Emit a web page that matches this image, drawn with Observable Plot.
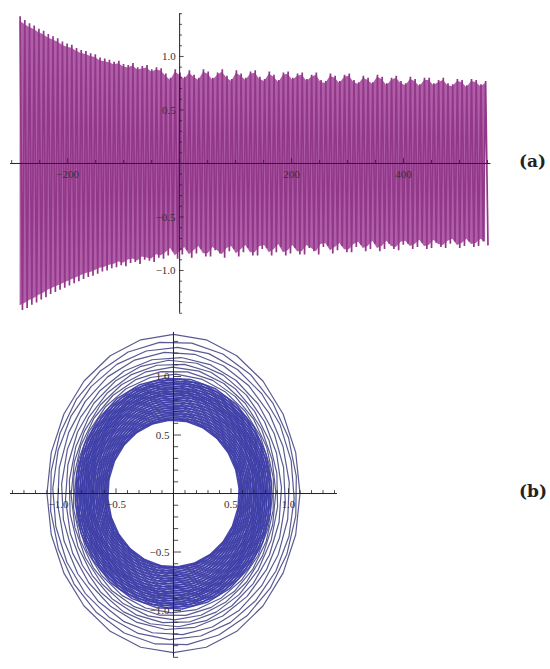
<!DOCTYPE html>
<html>
<head>
<meta charset="utf-8">
<style>
  body { margin: 0; background: #fff; }
  #wrap { position: relative; width: 550px; height: 669px; overflow: hidden; }
  #wrap svg { position: absolute; left: 0; }
  .lab { position: absolute; font-family: "DejaVu Serif", serif; font-weight: bold; font-size: 17px; color: #222; }
</style>
<script src="https://cdn.jsdelivr.net/npm/d3@7"></script>
<script src="https://cdn.jsdelivr.net/npm/@observablehq/plot@0.6"></script>
</head>
<body>
<div id="wrap"></div>
<script>
// ---------- Panel (a): time series, one max and one min per visible cycle ----------
const tStart = -285;
const tStep = 8.4;
const upperPeaks = [
  1.37, 1.34, 1.31, 1.29, 1.26, 1.24, 1.21, 1.19, 1.17, 1.14,
  1.12, 1.11, 1.08, 1.06, 1.05, 1.03, 1.02, 0.99, 0.98, 0.97,
  0.95, 0.96, 0.93, 0.92, 0.94, 0.90, 0.91, 0.92, 0.88, 0.90,
  0.89, 0.84, 0.80, 0.88, 0.85, 0.81, 0.87, 0.83, 0.80, 0.88,
  0.86, 0.80, 0.85, 0.88, 0.82, 0.79, 0.87, 0.84, 0.80, 0.86,
  0.87, 0.81, 0.79, 0.86, 0.83, 0.78, 0.85, 0.86, 0.80, 0.84,
  0.85, 0.79, 0.83, 0.85, 0.78, 0.77, 0.84, 0.82, 0.77, 0.83,
  0.84, 0.78, 0.76, 0.82, 0.80, 0.76, 0.83, 0.81, 0.75, 0.80,
  0.82, 0.77, 0.75, 0.81, 0.79, 0.74, 0.80, 0.80, 0.75, 0.78,
  0.80, 0.75, 0.74, 0.79, 0.78, 0.73, 0.79, 0.78, 0.74, 0.77
];
const lowerPeaks = [
  -1.37, -1.35, -1.32, -1.30, -1.27, -1.25, -1.22, -1.20, -1.18, -1.16,
  -1.14, -1.12, -1.10, -1.08, -1.06, -1.05, -1.03, -1.01, -1.00, -0.98,
  -0.97, -0.95, -0.96, -0.93, -0.92, -0.94, -0.90, -0.91, -0.92, -0.88,
  -0.89, -0.86, -0.82, -0.89, -0.85, -0.81, -0.88, -0.84, -0.80, -0.87,
  -0.87, -0.81, -0.84, -0.88, -0.82, -0.80, -0.87, -0.83, -0.79, -0.86,
  -0.86, -0.80, -0.79, -0.86, -0.83, -0.78, -0.86, -0.84, -0.79, -0.85,
  -0.85, -0.79, -0.82, -0.85, -0.78, -0.77, -0.84, -0.81, -0.77, -0.83,
  -0.83, -0.78, -0.76, -0.82, -0.80, -0.75, -0.82, -0.80, -0.75, -0.80,
  -0.81, -0.76, -0.75, -0.80, -0.78, -0.74, -0.80, -0.79, -0.74, -0.78,
  -0.79, -0.75, -0.73, -0.79, -0.77, -0.73, -0.78, -0.77, -0.73, -0.76
];
const xTickLabelsA = [-200, 200, 400];
const yTickLabelsA = [-1.0, -0.5, 0.5, 1.0];

// ---------- Panel (b): phase portrait, loops read as (x half-width, y half-height) ----------
const outerLoopRx = [1.10, 1.075, 1.05, 1.01, 0.975, 0.94, 0.91, 0.89, 0.875, 0.86];
const outerLoopRy = [1.36, 1.30, 1.25, 1.21, 1.165, 1.14, 1.11, 1.08, 1.05, 1.02];
const denseLoopRx = [
  0.855, 0.845, 0.84, 0.83, 0.82, 0.815, 0.805, 0.80, 0.79, 0.785,
  0.78, 0.77, 0.765, 0.76, 0.75, 0.745, 0.74, 0.73, 0.725, 0.72,
  0.71, 0.705, 0.70, 0.69, 0.68, 0.675, 0.665, 0.66, 0.65, 0.645,
  0.635, 0.63, 0.62, 0.615, 0.605, 0.60, 0.595, 0.585, 0.58, 0.572
];
const denseLoopRy = [
  0.99, 0.98, 0.97, 0.96, 0.95, 0.945, 0.935, 0.925, 0.915, 0.905,
  0.90, 0.89, 0.88, 0.875, 0.865, 0.855, 0.85, 0.84, 0.83, 0.82,
  0.81, 0.80, 0.79, 0.78, 0.77, 0.76, 0.75, 0.74, 0.73, 0.72,
  0.71, 0.70, 0.69, 0.68, 0.67, 0.66, 0.65, 0.64, 0.635, 0.628
];
const tickLabelsB = [-1.0, -0.5, 0.5, 1.0];

const fmt = v => (v < 0 ? "\u2212" : "") + Math.abs(v).toFixed(1);
const fmtInt = v => (v < 0 ? "\u2212" : "") + Math.abs(v);

// ---------- build panel (a) ----------
const zig = [];
const band = [];
upperPeaks.forEach((u, i) => {
  zig.push({t: tStart + i * tStep, v: u});
  zig.push({t: tStart + (i + 0.5) * tStep, v: lowerPeaks[i]});
  band.push({t: tStart + i * tStep, hi: u * 0.97, lo: lowerPeaks[i] * 0.97});
});

const minorXA = d3.range(-300, 551, 50);
const minorYA = d3.range(-14, 15).map(d => d / 10);
const fontTick = "Liberation Serif, DejaVu Serif, serif";

const plotA = Plot.plot({
  width: 550, height: 325,
  marginLeft: 0, marginRight: 0, marginTop: 0, marginBottom: 0,
  x: {domain: [-320, 662.5], axis: null},
  y: {domain: [-1.514, 1.523], axis: null},
  marks: [
    Plot.areaY(band, {x: "t", y1: "lo", y2: "hi", fill: "#ad55a3", fillOpacity: 0.95}),
    Plot.line(zig, {x: "t", y: "v", stroke: "#913889", strokeWidth: 1.7, strokeLinejoin: "miter"}),
    // axes
    Plot.ruleY([0], {x1: -302, x2: 556, stroke: "#222", strokeWidth: 1}),
    Plot.ruleX([0], {y1: -1.40, y2: 1.40, stroke: "#222", strokeWidth: 1}),
    Plot.ruleX(minorXA, {x: d => d, y1: 0, y2: d => (d % 200 === 0 ? 0.045 : 0.028), stroke: "#222", strokeWidth: 0.8}),
    Plot.ruleY(minorYA, {y: d => d, x1: 0, x2: d => (Math.round(d * 10) % 5 === 0 ? 8 : 5), stroke: "#222", strokeWidth: 0.8}),
    Plot.text(xTickLabelsA, {x: d => d, y: 0, dy: 11, text: fmtInt, fontSize: 11, fontFamily: fontTick, fill: "#333"}),
    Plot.text(yTickLabelsA, {x: 0, y: d => d, dx: -4, text: d => fmt(d), textAnchor: "end", fontSize: 11, fontFamily: fontTick, fill: "#333"})
  ]
});
plotA.style.top = "0px";

// ---------- build panel (b) ----------
const nVert = 24;
const loops = [];
const allRx = outerLoopRx.concat(denseLoopRx);
const allRy = outerLoopRy.concat(denseLoopRy);
allRx.forEach((rx, j) => {
  const ry = allRy[j];
  const phase = j * 0.41;
  for (let k = 0; k < nVert; k++) {
    const a = phase + 2 * Math.PI * k / nVert;
    loops.push({loop: j, outer: j < outerLoopRx.length, x: rx * Math.sin(a), y: ry * Math.cos(a)});
  }
});

const minorB = d3.range(-14, 15).map(d => d / 10);

const plotB = Plot.plot({
  width: 550, height: 344,
  marginLeft: 0, marginRight: 0, marginTop: 0, marginBottom: 0,
  x: {domain: [-1.504, 3.278], axis: null},
  y: {domain: [-1.504, 1.436], axis: null},
  marks: [
    Plot.line(loops.filter(d => d.outer), {x: "x", y: "y", z: "loop", curve: "linear-closed", stroke: "#5a5a92", strokeWidth: 1.2}),
    Plot.line(loops.filter(d => !d.outer), {x: "x", y: "y", z: "loop", curve: "linear-closed", stroke: "#3e3ea8", strokeWidth: 1.5, strokeOpacity: 0.95}),
    // axes
    Plot.ruleY([0], {x1: -1.417, x2: 1.426, stroke: "#222", strokeWidth: 1}),
    Plot.ruleX([0], {y1: -1.40, y2: 1.376, stroke: "#222", strokeWidth: 1}),
    Plot.ruleX(minorB, {x: d => d, y1: 0, y2: d => (Math.round(d * 10) % 5 === 0 ? 0.04 : 0.025), stroke: "#222", strokeWidth: 0.8}),
    Plot.ruleY(minorB.filter(d => d <= 1.3), {y: d => d, x1: 0, x2: d => (Math.round(d * 10) % 5 === 0 ? 0.07 : 0.045), stroke: "#222", strokeWidth: 0.8}),
    Plot.text(tickLabelsB, {x: d => d, y: 0, dy: 11, text: d => fmt(d), fontSize: 11, fontFamily: fontTick, fill: "#333"}),
    Plot.text(tickLabelsB, {x: 0, y: d => d, dx: -4, text: d => fmt(d), textAnchor: "end", fontSize: 11, fontFamily: fontTick, fill: "#333"})
  ]
});
plotB.style.top = "325px";

const wrap = document.getElementById("wrap");
wrap.appendChild(plotA);
wrap.appendChild(plotB);

const la = document.createElement("div");
la.className = "lab"; la.textContent = "(a)";
la.style.left = "519px"; la.style.top = "151px";
wrap.appendChild(la);
const lb = document.createElement("div");
lb.className = "lab"; lb.textContent = "(b)";
lb.style.left = "519px"; lb.style.top = "481px";
wrap.appendChild(lb);
</script>
</body>
</html>
